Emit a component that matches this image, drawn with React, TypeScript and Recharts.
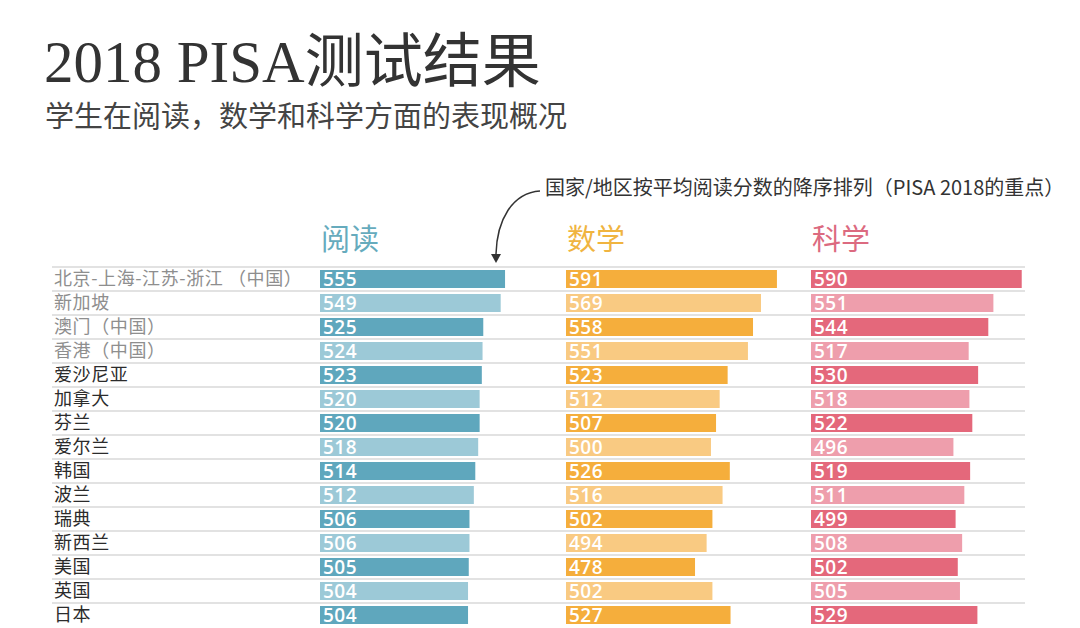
import { BarChart, Bar, XAxis, YAxis, CartesianGrid, Cell, LabelList } from 'recharts'

const regions = [
  '北京-上海-江苏-浙江 （中国）',
  '新加坡',
  '澳门（中国）',
  '香港（中国）',
  '爱沙尼亚',
  '加拿大',
  '芬兰',
  '爱尔兰',
  '韩国',
  '波兰',
  '瑞典',
  '新西兰',
  '美国',
  '英国',
  '日本',
]
const reading = [555, 549, 525, 524, 523, 520, 520, 518, 514, 512, 506, 506, 505, 504, 504]
const math = [591, 569, 558, 551, 523, 512, 507, 500, 526, 516, 502, 494, 478, 502, 527]
const science = [590, 551, 544, 517, 530, 518, 522, 496, 519, 511, 499, 508, 502, 505, 529]

// number of grey (non-highlighted) rows at the top
const greyRows = 4

const rows = regions.map((region, i) => ({
  region,
  reading: reading[i],
  math: math[i],
  science: science[i],
}))

const CJK = "'Noto Sans CJK SC', sans-serif"
const NUM = "'Open Sans', sans-serif"

// one line above every row, none below the last
const gridLines = ({ offset }: any) =>
  regions.map((_, i) => offset.top + (i * offset.height) / regions.length)

const RegionTick = ({ y, payload, index }: any) => (
  <text
    x={2}
    y={y}
    dy="0.36em"
    fontSize={18}
    fontFamily={CJK}
    letterSpacing={0.6}
    fill={index < greyRows ? '#8e8e8e' : '#2b2b2b'}
  >
    {payload.value}
  </text>
)

type PanelProps = {
  dataKey: string
  colors: [string, string]
  domainMax: number
  left: number
  width: number
  withLabels?: boolean
}

function Panel({ dataKey, colors, domainMax, left, width, withLabels }: PanelProps) {
  return (
    <div style={{ position: 'absolute', left, top: 255 }}>
      <BarChart
        width={width}
        height={373}
        data={rows}
        layout="vertical"
        margin={{ top: 12, right: 0, bottom: 1, left: 0 }}
      >
        <CartesianGrid
          horizontal
          vertical={false}
          x={0}
          width={width}
          stroke="#c6c6c6"
          strokeWidth={1.2}
          horizontalCoordinatesGenerator={gridLines}
        />
        <XAxis type="number" domain={[300, domainMax]} hide />
        <YAxis
          type="category"
          dataKey="region"
          width={withLabels ? 268 : 0}
          hide={!withLabels}
          axisLine={false}
          tickLine={false}
          interval={0}
          tick={<RegionTick />}
        />
        <Bar dataKey={dataKey} barSize={18} isAnimationActive={false}>
          {rows.map((_, i) => (
            <Cell key={i} fill={colors[i % 2]} />
          ))}
          <LabelList
            dataKey={dataKey}
            position="insideLeft"
            offset={3}
            fill="#ffffff"
            fontSize={19}
            fontWeight={600}
            fontFamily={NUM}
            letterSpacing={0.5}
          />
        </Bar>
      </BarChart>
    </div>
  )
}

export default function App() {
  return (
    <div
      style={{
        position: 'absolute',
        left: 0,
        top: 0,
        width: 1080,
        height: 628,
        background: '#ffffff',
        overflow: 'hidden',
      }}
    >
      <svg width={1080} height={628} style={{ position: 'absolute', left: 0, top: 0 }}>
        <text
          x={44}
          y={82}
          fontSize={59}
          fontFamily="'Liberation Serif', 'Noto Sans CJK SC', serif"
          fill="#333333"
        >
          2018 PISA测试结果
        </text>
        <text x={45} y={127} fontSize={29} fontFamily={CJK} fill="#444444">
          学生在阅读，数学和科学方面的表现概况
        </text>
        <text x={545} y={195} fontSize={20} fontFamily={CJK} fill="#333333">
          国家/地区按平均阅读分数的降序排列（PISA 2018的重点）
        </text>
        <path d="M 540 191 C 512 193, 497 220, 496 254" fill="none" stroke="#333333" strokeWidth={1.5} />
        <polygon points="491,254 501,254 496,263" fill="#333333" />
        <text x={321} y={250} fontSize={29} fontFamily={CJK} fill="#66abbd">
          阅读
        </text>
        <text x={567} y={250} fontSize={29} fontFamily={CJK} fill="#f0b440">
          数学
        </text>
        <text x={812} y={250} fontSize={29} fontFamily={CJK} fill="#dc6a80">
          科学
        </text>
      </svg>
      <Panel dataKey="reading" colors={['#5fa7bd', '#9cc9d7']} domainMax={639} left={52} width={514} withLabels />
      <Panel dataKey="math" colors={['#f5ae3c', '#f9ca82']} domainMax={638} left={566} width={245} />
      <Panel dataKey="science" colors={['#e4687b', '#ee9eac']} domainMax={594.5} left={811} width={214} />
    </div>
  )
}
